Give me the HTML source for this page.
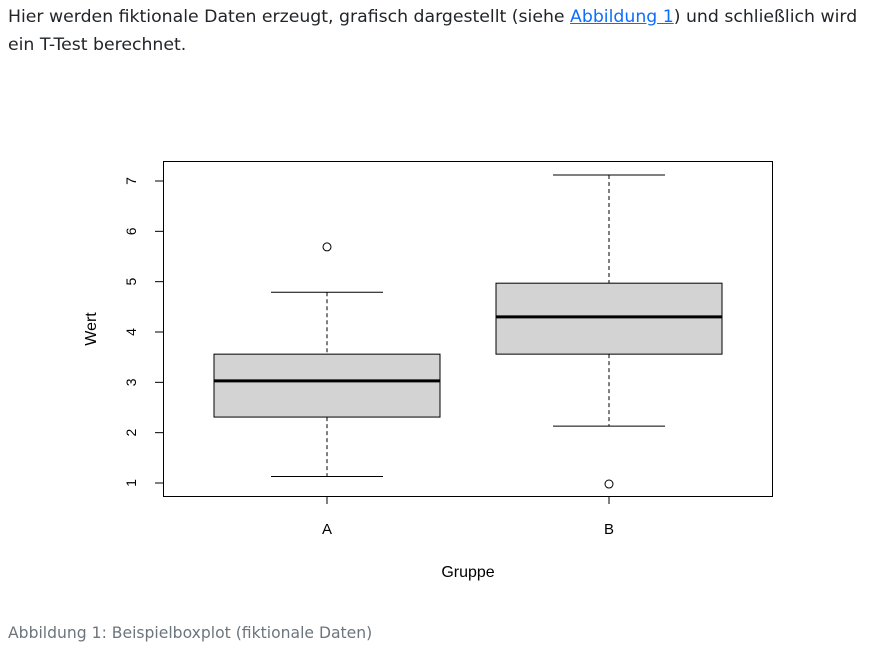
<!DOCTYPE html>
<html><head><meta charset="utf-8">
<style>
body{margin:0;width:877px;height:653px;background:#fff;overflow:hidden;font-family:"DejaVu Sans","Liberation Sans",sans-serif;}
#intro{position:absolute;left:8px;top:3px;width:860px;font-size:17.3px;line-height:28px;color:#212529;white-space:nowrap;}
#intro a{color:#0d6efd;text-decoration:underline;}
#cap{position:absolute;left:8px;top:624px;font-size:15.6px;color:#6c757d;}
svg{position:absolute;left:0;top:0;}
</style></head><body>
<div id="intro">Hier werden fiktionale Daten erzeugt, grafisch dargestellt (siehe <a>Abbildung 1</a>) und schließlich wird<br>ein T-Test berechnet.</div>
<svg id="chart" width="877" height="653"></svg>
<div id="cap">Abbildung 1: Beispielboxplot (fiktionale Daten)</div>
<script>
const groups=["A","B"];
const q1=[2.31,3.56];
const med=[3.03,4.30];
const q3=[3.56,4.97];
const whiskLo=[1.13,2.13];
const whiskHi=[4.79,7.12];
const outliers=[[5.69],[0.98]];
const yTicks=[1,2,3,4,5,6,7];
const NS="http://www.w3.org/2000/svg";
const svg=document.getElementById("chart");
const y=v=>483-(v-1)*(302/6);
const x=i=>327+i*282;
const hw=113;
function mk(t,a){const e=document.createElementNS(NS,t);for(const k in a)e.setAttribute(k,a[k]);svg.appendChild(e);return e;}
let e;
e=mk("rect",{x:163.5,y:161.5,width:609,height:335,fill:"none",stroke:"#000","stroke-width":1});


yTicks.forEach(v=>{
 e=mk("line",{x1:155,x2:163,y1:y(v),y2:y(v),stroke:"#000"});
 
 
 e=mk("text",{x:0,y:0,transform:`translate(136,${y(v)}) rotate(-90)`,"text-anchor":"middle","font-size":14,"font-family":"Liberation Sans, sans-serif"});
 e.textContent=v;
 
 
});
groups.forEach((g,i)=>{
 const cx=x(i);
 e=mk("line",{x1:cx,x2:cx,y1:y(whiskHi[i]),y2:y(q3[i]),stroke:"#000","stroke-dasharray":"4,3"});
 
 
 e=mk("line",{x1:cx,x2:cx,y1:y(q1[i]),y2:y(whiskLo[i]),stroke:"#000","stroke-dasharray":"4,3"});
 
 
 e=mk("line",{x1:cx-56,x2:cx+56,y1:y(whiskHi[i]),y2:y(whiskHi[i]),stroke:"#000"});
 
 
 e=mk("line",{x1:cx-56,x2:cx+56,y1:y(whiskLo[i]),y2:y(whiskLo[i]),stroke:"#000"});
 
 
 e=mk("rect",{x:cx-hw,y:y(q3[i]),width:2*hw,height:y(q1[i])-y(q3[i]),fill:"#d3d3d3",stroke:"#000"});
 
 
 e=mk("line",{x1:cx-hw,x2:cx+hw,y1:y(med[i]),y2:y(med[i]),stroke:"#000","stroke-width":3});
 
 
 outliers[i].forEach(o=>{
  e=mk("circle",{cx:cx,cy:y(o),r:4,fill:"none",stroke:"#000"});
  
  
 });
 e=mk("line",{x1:cx,x2:cx,y1:496,y2:504,stroke:"#000"});
 
 
 e=mk("text",{x:cx,y:534,"text-anchor":"middle","font-size":15,"font-family":"Liberation Sans, sans-serif"});
 e.textContent=g;
 
 
});
e=mk("text",{x:468,y:577,"text-anchor":"middle","font-size":16,"font-family":"Liberation Sans, sans-serif"});
e.textContent="Gruppe";


e=mk("text",{x:0,y:0,transform:"translate(96,329) rotate(-90)","text-anchor":"middle","font-size":16,"font-family":"Liberation Sans, sans-serif"});
e.textContent="Wert";


</script>
</body></html>
